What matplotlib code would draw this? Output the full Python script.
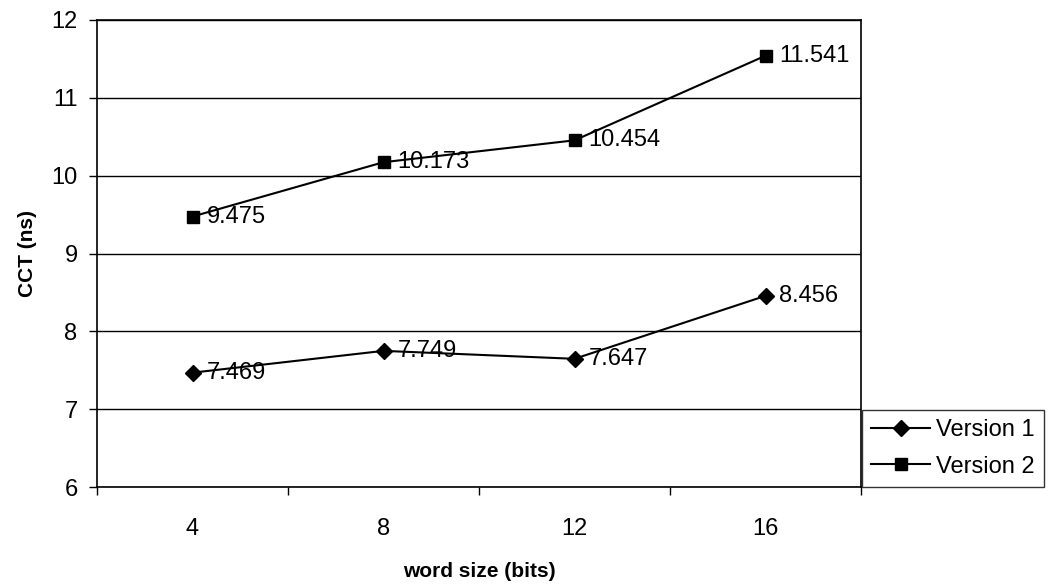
import matplotlib
matplotlib.use("Agg")
import matplotlib.pyplot as plt

plt.rcParams['font.family'] = ['Liberation Sans', 'DejaVu Sans']

categories = ["4", "8", "12", "16"]
version1 = [7.469, 7.749, 7.647, 8.456]
version2 = [9.475, 10.173, 10.454, 11.541]
labels1 = ["7.469", "7.749", "7.647", "8.456"]
labels2 = ["9.475", "10.173", "10.454", "11.541"]
yticks = [6, 7, 8, 9, 10, 11, 12]

fig = plt.figure(figsize=(10.48, 5.87), dpi=100)
ax = fig.add_axes([97/1048, 1-487/587, (861-97)/1048, (487-20)/587])

x = list(range(len(categories)))
l1, = ax.plot(x, version1, color='black', lw=1.5, marker='D', ms=8.5, mfc='black', mec='black', label='Version 1')
l2, = ax.plot(x, version2, color='black', lw=1.5, marker='s', ms=8, mfc='black', mec='black', label='Version 2')

for xi, v, t in zip(x, version1, labels1):
    ax.annotate(t, (xi, v), xytext=(10, 0), textcoords='offset points', va='center', ha='left', fontsize=17)
for xi, v, t in zip(x, version2, labels2):
    ax.annotate(t, (xi, v), xytext=(10, 0), textcoords='offset points', va='center', ha='left', fontsize=17)

ax.set_xlim(-0.5, len(categories) - 0.5)
ax.set_ylim(6, 12)
ax.set_yticks(yticks)
ax.set_yticklabels([str(t) for t in yticks], fontsize=17)
ax.set_xticks(x)
ax.set_xticklabels(categories, fontsize=17)
ax.set_xticks([i - 0.5 for i in range(len(categories) + 1)], minor=True)
ax.tick_params(axis='x', which='major', length=0, pad=22)
ax.tick_params(axis='x', which='minor', length=6, direction='out', width=1)
ax.tick_params(axis='y', length=6, direction='out', width=1, pad=8)
ax.yaxis.grid(True, color='black', lw=1)
ax.set_axisbelow(True)
for s in ax.spines.values():
    s.set_color('black')
    s.set_linewidth(1.2)

ax.set_xlabel('word size (bits)', fontsize=15, fontweight='bold', labelpad=16)
ax.set_ylabel('CCT (ns)', fontsize=15, fontweight='bold', labelpad=10)

leg = fig.legend(handles=[l1, l2], loc='upper left', bbox_to_anchor=(862/1048, 1-410/587),
                 fontsize=17, frameon=True, fancybox=False, edgecolor='black',
                 handlelength=2.5, handletextpad=0.25, borderpad=0.4, labelspacing=0.6,
                 borderaxespad=0)
leg.get_frame().set_linewidth(1.0)

fig.savefig('out.png', dpi=100)
